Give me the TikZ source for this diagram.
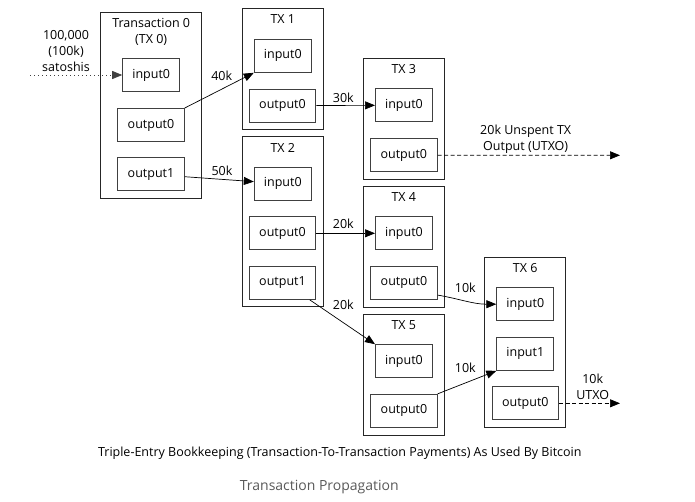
\documentclass[tikz,border=0pt]{standalone}
\usepackage{fontspec}
\setmainfont{Open Sans}
\usetikzlibrary{arrows.meta}

\begin{document}
\begin{tikzpicture}[x=1pt,y=-1pt,
  font=\fontsize{12.5}{16}\selectfont,
  txbox/.style={draw=black!85,line width=0.9pt,minimum width=81pt,inner sep=0pt},
  inbox/.style={draw=black!75,line width=1pt,minimum width=57pt,minimum height=33pt,inner sep=0pt},
  outbox/.style={inbox,minimum width=66.5pt},
  ttl/.style={inner sep=0pt,align=center},
  lbl/.style={inner sep=0pt,align=center},
  pay/.style={->,line width=0.7pt},
  >={Triangle[length=10pt,width=8pt]}]
  \useasboundingbox (0,0) rectangle (695,501);

  % transactions
  \node[txbox,minimum width=101pt,minimum height=185.6pt] (tx0) at (151.2,105.5) {};
  \node[ttl] (tx0-t) at (151.2,31.5) {Transaction 0\\(TX 0)};
  \foreach \n/\x/\y/\h/\t in {tx1/282.8/68.7/120.7/TX 1,
                              tx2/282.8/221.7/170/TX 2,
                              tx3/403.8/118.7/120.7/TX 3,
                              tx4/403.8/246.5/121/TX 4,
                              tx5/403.8/374.7/120.7/TX 5,
                              tx6/525.2/342.3/170/TX 6}{
    \node[txbox,minimum height=\h pt] (\n) at (\x,\y) {};
    \node[ttl] (\n-t) at (\x,\y-\h/2+11) {\t};
  }

  % inputs and outputs
  \node[inbox]  (tx0in0)  at (151.2,75)    {input0};
  \node[outbox] (tx0out0) at (151,125)     {output0};
  \node[outbox] (tx0out1) at (151,174.3)   {output1};
  \node[inbox]  (tx1in0)  at (282.8,55.8)  {input0};
  \node[outbox] (tx1out0) at (282.5,105.5) {output0};
  \node[inbox]  (tx2in0)  at (282.8,183.7) {input0};
  \node[outbox] (tx2out0) at (282.5,233.3) {output0};
  \node[outbox] (tx2out1) at (282.5,282.8) {output1};
  \node[inbox]  (tx3in0)  at (404,105.3)   {input0};
  \node[outbox] (tx3out0) at (403.8,155.2) {output0};
  \node[inbox]  (tx4in0)  at (404,233.3)   {input0};
  \node[outbox] (tx4out0) at (404,282.8)   {output0};
  \node[inbox]  (tx5in0)  at (404,361.2)   {input0};
  \node[outbox] (tx5out0) at (404,410.8)   {output0};
  \node[inbox]  (tx6in0)  at (525.3,304.2) {input0};
  \node[inbox]  (tx6in1)  at (525.3,353.8) {input1};
  \node[outbox] (tx6out0) at (525.3,403.3) {output0};

  % free ends
  \coordinate (src)   at (30,75);
  \coordinate (utxo1) at (620,155.3);
  \coordinate (utxo2) at (620,403.3);

  % payments
  \draw[pay,black!75,dash pattern=on 1pt off 3pt] (src) -- (tx0in0);
  \draw[pay] (tx0out0.north east) -- (tx1in0.south west);
  \draw[pay] (tx0out1) -- (tx2in0);
  \draw[pay] (tx1out0) -- (tx3in0);
  \draw[pay] (tx2out0) -- (tx4in0);
  \draw[pay] (tx2out1.-32) -- (tx5in0.north west);
  \draw[pay] (tx4out0.-20) to[out=-10,in=180] (tx6in0.west);
  \draw[pay] (tx5out0.north east) -- (tx6in1.south west);
  \draw[pay,dash pattern=on 4pt off 2.5pt] (tx3out0) -- (utxo1);
  \draw[pay,dash pattern=on 4pt off 2.5pt] (tx6out0) -- (utxo2);

  % amounts
  \node[lbl] (lsat)  at (66,50.9)    {100,000\\(100k)\\satoshis};
  \node[lbl] (l40)   at (221.7,76)   {40k};
  \node[lbl] (l50)   at (222,170.7)  {50k};
  \node[lbl] (l30)   at (343.3,97.7) {30k};
  \node[lbl] (l20a)  at (343.3,224)  {20k};
  \node[lbl] (l20b)  at (343.3,305.3) {20k};
  \node[lbl] (l10a)  at (465.3,288)  {10k};
  \node[lbl] (l10b)  at (465.3,368.3) {10k};
  \node[lbl] (lutxo1) at (525.7,138.8) {20k Unspent TX\\Output (UTXO)};
  \node[lbl] (lutxo2) at (592.7,387)   {10k\\UTXO};

  % captions
  \node[lbl] (cap) at (339.8,453.3)
    {Triple-Entry Bookkeeping (Transaction-To-Transaction Payments) As Used By Bitcoin};
  \node[lbl,text=black!65,font=\fontsize{14}{16}\selectfont] (sub) at (319.3,486.7)
    {Transaction Propagation};
\end{tikzpicture}
\end{document}
